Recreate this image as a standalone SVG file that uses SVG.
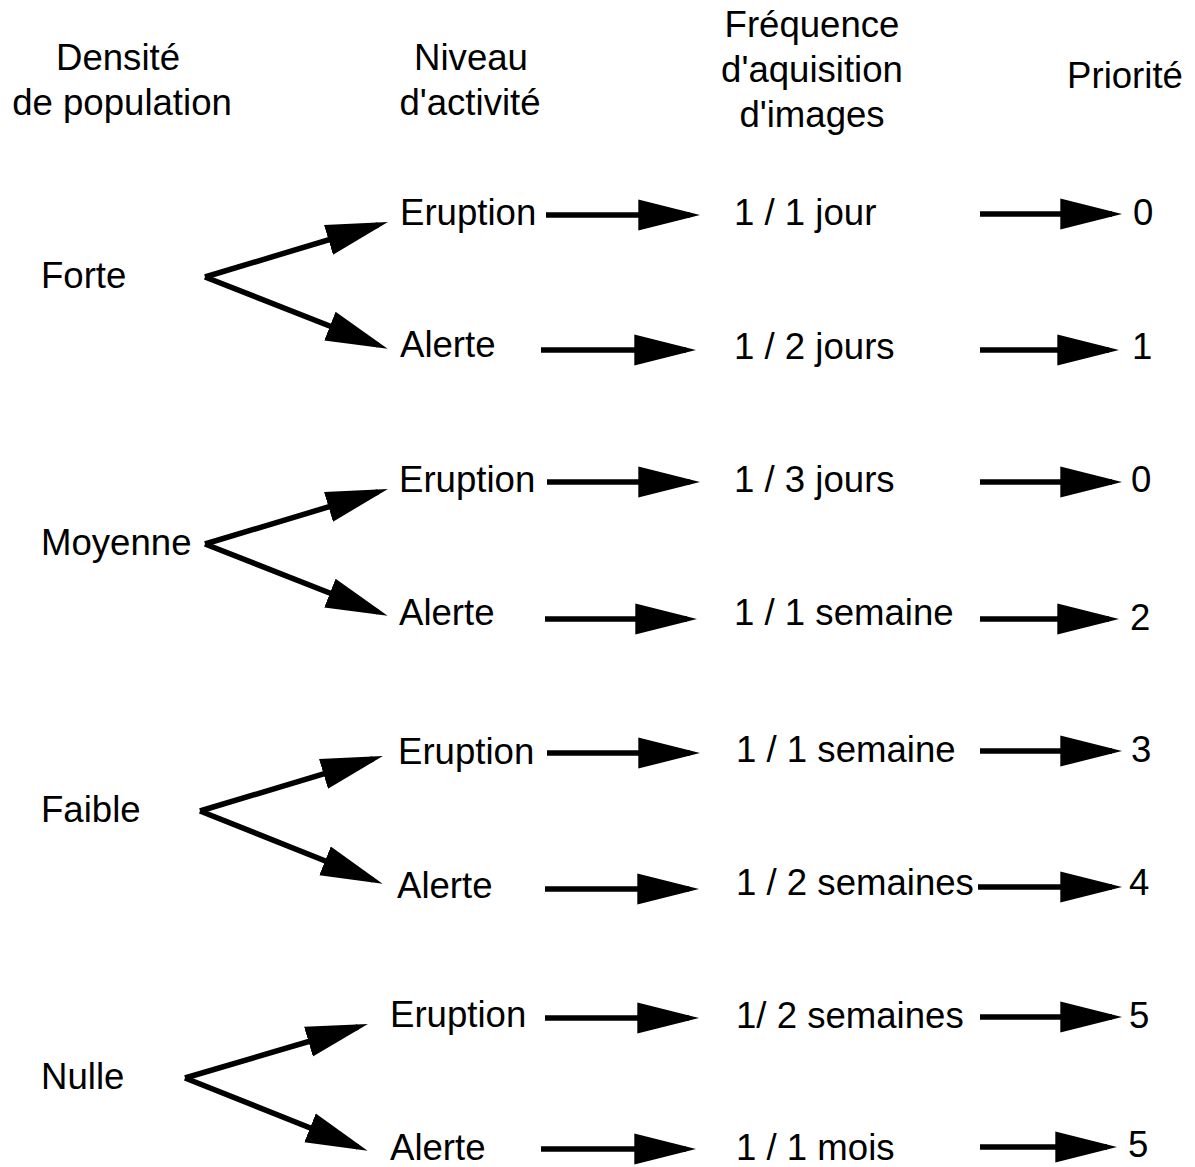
<svg xmlns="http://www.w3.org/2000/svg" width="1195" height="1167" viewBox="0 0 1195 1167">
<style>
text{font-family:"Liberation Sans",Arial,sans-serif;font-size:36.6px;fill:#000}
.h{text-anchor:middle}
.c line{stroke:#000;stroke-width:5.5;marker-end:url(#ah)}
</style>
<defs>
<marker id="ah" markerUnits="userSpaceOnUse" markerWidth="62" markerHeight="32" refX="50" refY="15" orient="auto" viewBox="0 0 60 30">
<path d="M0,0 L60,15 L0,30 z" fill="#000"/>
</marker>
</defs>
<rect width="1195" height="1167" fill="#fff"/>
<g id="headers">
<text class="h" x="118" y="70">Densité</text>
<text class="h" x="122" y="115">de population</text>
<text class="h" x="471" y="70">Niveau</text>
<text class="h" x="470" y="115">d'activité</text>
<text class="h" x="812" y="37">Fréquence</text>
<text class="h" x="812" y="82">d'aquisition</text>
<text class="h" x="812" y="127">d'images</text>
<text class="h" x="1125" y="88">Priorité</text>
</g>
<g id="density">
<text id="forte" x="41" y="288">Forte</text>
<text id="moyenne" x="41" y="555">Moyenne</text>
<text id="faible" x="41" y="822">Faible</text>
<text id="nulle" x="41" y="1089">Nulle</text>
</g>
<g id="activity">
<text id="a1" x="400" y="225">Eruption</text>
<text id="a2" x="400" y="357">Alerte</text>
<text id="a3" x="399" y="492">Eruption</text>
<text id="a4" x="399" y="625">Alerte</text>
<text id="a5" x="398" y="764">Eruption</text>
<text id="a6" x="397" y="898">Alerte</text>
<text id="a7" x="390" y="1027">Eruption</text>
<text id="a8" x="390" y="1160">Alerte</text>
</g>
<g id="frequency">
<text id="f1" x="734" y="225">1 / 1 jour</text>
<text id="f2" x="734" y="359">1 / 2 jours</text>
<text id="f3" x="734" y="492">1 / 3 jours</text>
<text id="f4" x="734" y="625">1 / 1 semaine</text>
<text id="f5" x="736" y="762">1 / 1 semaine</text>
<text id="f6" x="736" y="895">1 / 2 semaines</text>
<text id="f7" x="736" y="1028">1/ 2 semaines</text>
<text id="f8" x="736" y="1160">1 / 1 mois</text>
</g>
<g id="priority">
<text id="p1" x="1133" y="225">0</text>
<text id="p2" x="1132" y="359">1</text>
<text id="p3" x="1131" y="492">0</text>
<text id="p4" x="1130" y="630">2</text>
<text id="p5" x="1131" y="762">3</text>
<text id="p6" x="1129" y="895">4</text>
<text id="p7" x="1129" y="1028">5</text>
<text id="p8" x="1128" y="1157">5</text>
</g>
<g id="connectors" class="c">
<line x1="205" y1="277" x2="378" y2="225"/>
<line x1="205" y1="277" x2="378" y2="345"/>
<line x1="205" y1="544" x2="378" y2="492"/>
<line x1="205" y1="544" x2="378" y2="612"/>
<line x1="200" y1="811" x2="373" y2="759"/>
<line x1="200" y1="811" x2="373" y2="880"/>
<line x1="185" y1="1078" x2="358" y2="1027"/>
<line x1="185" y1="1078" x2="358" y2="1147"/>
<line x1="546" y1="215" x2="690" y2="215"/>
<line x1="541" y1="350" x2="686" y2="350"/>
<line x1="547" y1="482" x2="690" y2="482"/>
<line x1="545" y1="619" x2="687" y2="619"/>
<line x1="547" y1="753" x2="690" y2="753"/>
<line x1="545" y1="889" x2="689" y2="889"/>
<line x1="545" y1="1018" x2="689" y2="1018"/>
<line x1="541" y1="1149" x2="686" y2="1149"/>
<line x1="980" y1="214" x2="1112" y2="214"/>
<line x1="980" y1="350" x2="1109" y2="350"/>
<line x1="980" y1="482" x2="1112" y2="482"/>
<line x1="980" y1="619" x2="1109" y2="619"/>
<line x1="980" y1="751" x2="1112" y2="751"/>
<line x1="978" y1="887" x2="1112" y2="887"/>
<line x1="980" y1="1017" x2="1112" y2="1017"/>
<line x1="980" y1="1147" x2="1107" y2="1147"/>
</g>
</svg>
